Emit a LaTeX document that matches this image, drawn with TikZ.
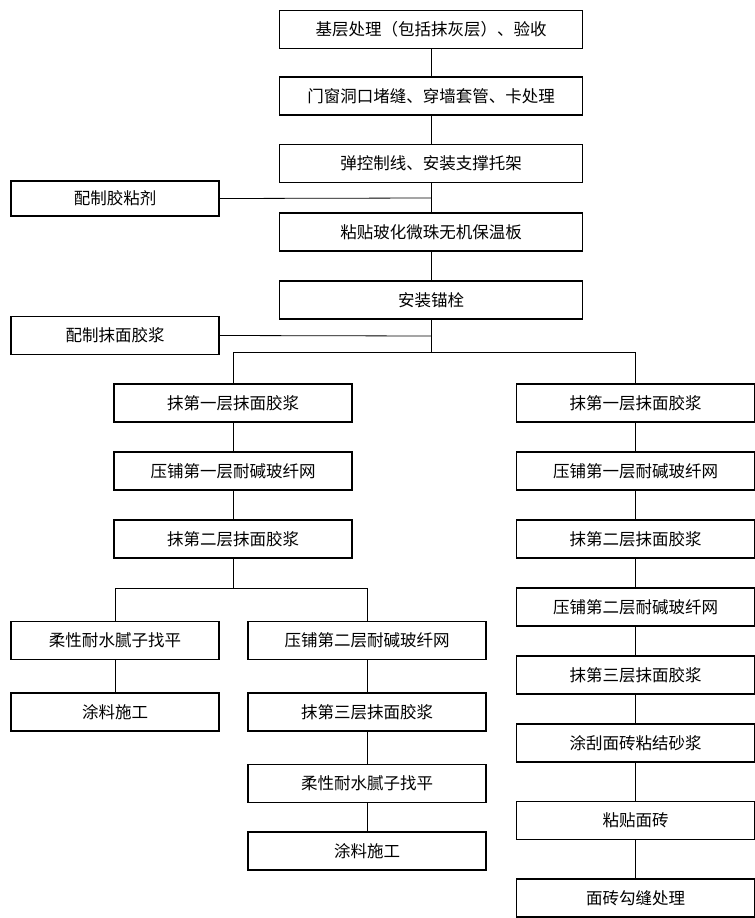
\documentclass[tikz,border=0pt]{standalone}
\usepackage{fontspec}
\newfontfamily\cjk{Noto Sans CJK SC}
\begin{document}
\begin{tikzpicture}[x=1bp,y=-1bp,
  box/.style={draw, line width=1.8bp, minimum height=38bp, inner sep=0pt,
    font=\cjk\fontsize{16.5bp}{19bp}\selectfont},
  wide/.style={box, minimum width=303bp},
  mid/.style={box, minimum width=238bp},
  side/.style={box, minimum width=208bp},
  link/.style={line width=0.8bp}]
\useasboundingbox (0,0) rectangle (755,918);

% main trunk
\node[wide] (b1) at (431,29.5) {基层处理（包括抹灰层）、验收};
\node[wide] (b2) at (431,96) {门窗洞口堵缝、穿墙套管、卡处理};
\node[wide] (b3) at (431,163.5) {弹控制线、安装支撑托架};
\node[wide] (b4) at (431,232) {粘贴玻化微珠无机保温板};
\node[wide] (b5) at (431,300) {安装锚栓};

% side inputs
\node[side, minimum height=35bp] (gl) at (115,198.5) {配制胶粘剂};
\node[side] (gm) at (115,335.5) {配制抹面胶浆};

% left branch
\node[mid] (l1) at (233,403) {抹第一层抹面胶浆};
\node[mid] (l2) at (233,471) {压铺第一层耐碱玻纤网};
\node[mid] (l3) at (233,539) {抹第二层抹面胶浆};

% left branch, outer finish
\node[side] (a1) at (115,640.5) {柔性耐水腻子找平};
\node[side] (a2) at (115,712) {涂料施工};

% left branch, inner finish
\node[mid] (m1) at (367,640.5) {压铺第二层耐碱玻纤网};
\node[mid] (m2) at (367,712) {抹第三层抹面胶浆};
\node[mid] (m3) at (367,783.5) {柔性耐水腻子找平};
\node[mid] (m4) at (367,851) {涂料施工};

% right branch
\node[mid] (r1) at (635.5,403) {抹第一层抹面胶浆};
\node[mid] (r2) at (635.5,471) {压铺第一层耐碱玻纤网};
\node[mid] (r3) at (635.5,539) {抹第二层抹面胶浆};
\node[mid] (r4) at (635.5,607) {压铺第二层耐碱玻纤网};
\node[mid] (r5) at (635.5,675) {抹第三层抹面胶浆};
\node[mid] (r6) at (635.5,743) {涂刮面砖粘结砂浆};
\node[mid] (r7) at (635.5,820.5) {粘贴面砖};
\node[mid] (r8) at (635.5,898) {面砖勾缝处理};

% junction points
\coordinate (j1) at (431,198);
\coordinate (j2) at (431,336);
\coordinate (s1) at (431,352.5);
\coordinate (s2) at (233,588.5);

\draw[link] (b1) -- (b2);
\draw[link] (b2) -- (b3);
\draw[link] (b3) -- (b4);
\draw[link] (b4) -- (b5);
\draw[link] (gl.east) -- (j1);
\draw[link] (gm.east) -- (j2);
\draw[link] (b5.south) -- (s1);
\draw[link] (l1.north) |- (s1) -| (r1.north);
\draw[link] (l1) -- (l2);
\draw[link] (l2) -- (l3);
\draw[link] (l3.south) -- (s2);
\draw[link] (a1.north) |- (s2) -| (m1.north);
\draw[link] (a1) -- (a2);
\draw[link] (m1) -- (m2);
\draw[link] (m2) -- (m3);
\draw[link] (m3) -- (m4);
\draw[link] (r1) -- (r2);
\draw[link] (r2) -- (r3);
\draw[link] (r3) -- (r4);
\draw[link] (r4) -- (r5);
\draw[link] (r5) -- (r6);
\draw[link] (r6) -- (r7);
\draw[link] (r7) -- (r8);
\end{tikzpicture}
\end{document}
